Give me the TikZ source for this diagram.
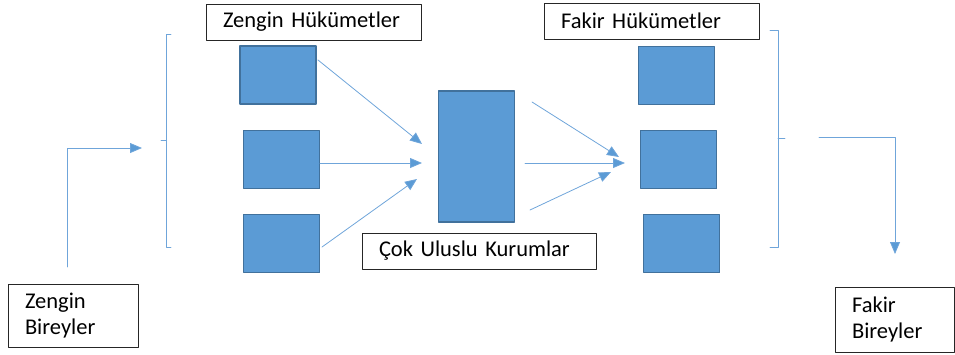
\documentclass[tikz,border=0pt]{standalone}
\usepackage{fontspec}
\setmainfont{Carlito}
\usetikzlibrary{arrows.meta}

\definecolor{blokmavi}{HTML}{5B9BD5}
\definecolor{blokkenar}{HTML}{41719C}
\definecolor{okmavi}{HTML}{6FA5DA}

\begin{document}
\begin{tikzpicture}[line cap=round,line join=round,x=1pt,y=-1pt,
    blok/.style={draw=blokkenar,fill=blokmavi,line width=1.3pt,inner sep=0pt,
      minimum width=76pt,minimum height=58pt},
    etiket/.style={draw=black!85,line width=0.8pt,align=left,inner xsep=17pt,
      inner ysep=0pt,font=\fontsize{22.5}{25.5}\selectfont},
    ok/.style={draw=okmavi,line width=0.8pt,-{Triangle[length=12pt,width=10pt,fill=blokmavi]}},
    parantez/.style={draw=okmavi,line width=0.8pt}]
    \useasboundingbox (0,0) rectangle (955,354);

    % mavi kutular
    \foreach \ad/\x/\y in {z1/278/75,z2/281.5/159.5,z3/281.5/243.5,
                           f1/676.5/75.5,f2/678.5/159.5,f3/681.5/243.5}
      \node[blok] (\ad) at (\x,\y) {};
    \node[blok,minimum height=131pt] (merkez) at (476.5,156.5) {};

    % etiketler
    \node[etiket,text width=181pt,minimum height=36pt] (zh) at (313.5,22) {Zengin Hükümetler};
    \node[etiket,text width=181pt,minimum height=36pt] (fh) at (651.5,21) {Fakir Hükümetler};
    \node[etiket,text width=200pt,minimum height=36pt] (cok) at (479,251) {Çok Uluslu Kurumlar};
    \node[etiket,text width=96pt,minimum height=63pt] (zb) at (73,315.5) {Zengin\\Bireyler};
    \node[etiket,text width=85pt,minimum height=65pt] (fb) at (894.5,319.5) {Fakir\\Bireyler};

    % oklarin uclari
    \coordinate (a1) at (318,60);  \coordinate (a1u) at (422,144);
    \coordinate (a2) at (320,163); \coordinate (a2u) at (422,163);
    \coordinate (a3) at (322,247); \coordinate (a3u) at (417,179);
    \coordinate (b1) at (532,102); \coordinate (b1u) at (619,157);
    \coordinate (b2) at (525,163); \coordinate (b2u) at (625,163);
    \coordinate (b3) at (530,210); \coordinate (b3u) at (611,172);
    \coordinate (zbcik) at (67,267);  \coordinate (solucu) at (142,148);
    \coordinate (fbgir) at (819,137); \coordinate (fbucu) at (895,254);

    \foreach \s in {a1,a2,a3,b1,b2,b3}
      \draw[ok] (\s) -- (\s u);
    \draw[ok] (zbcik) |- (solucu);
    \draw[ok] (fbgir) -| (fbucu);

    % parantezler
    \draw[parantez] (171,34) -- (166,34) -- (166,247) -- (171,247);
    \draw[parantez] (166,140) -- (161,140);
    \draw[parantez] (770,30) -- (778,30) -- (778,247) -- (770,247);
    \draw[parantez] (778,138) -- (785,138);
  \end{tikzpicture}
\end{document}
